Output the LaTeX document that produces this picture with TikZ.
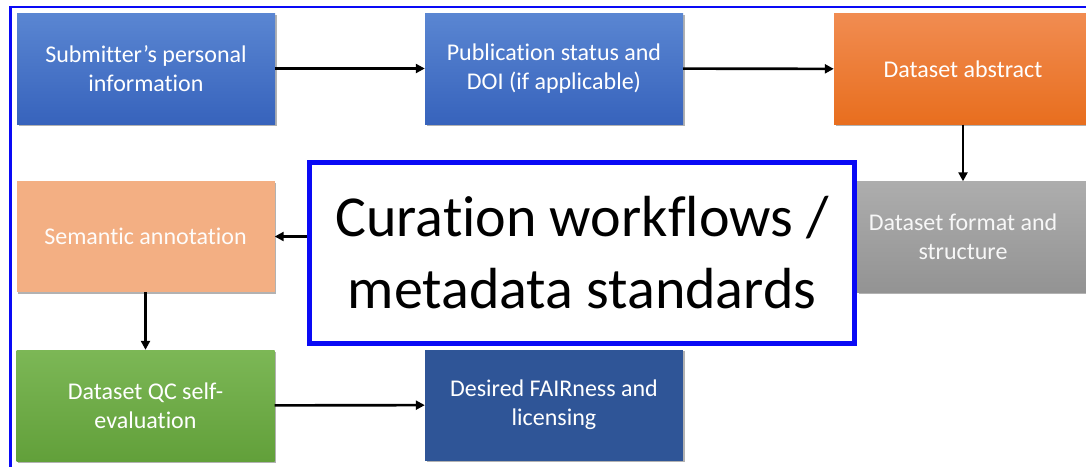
\documentclass[tikz,border=0pt]{standalone}
\usepackage{fontspec}
\setmainfont{Carlito}[Ligatures={NoCommon,NoContextual,NoRare}]
\usetikzlibrary{arrows.meta,shadows}

\definecolor{frameblue}{HTML}{0A0AF5}
\definecolor{bluetop}{HTML}{5A86D2}
\definecolor{bluebot}{HTML}{3763BC}
\definecolor{orangetop}{HTML}{F18C51}
\definecolor{orangebot}{HTML}{E86E1E}
\definecolor{peach}{HTML}{F3AF83}
\definecolor{graytop}{HTML}{ADADAD}
\definecolor{graybot}{HTML}{939393}
\definecolor{greentop}{HTML}{7CB756}
\definecolor{greenbot}{HTML}{62A03A}
\definecolor{navy}{HTML}{2F5597}

\tikzset{
  card/.style={rectangle, minimum width=258pt, minimum height=111pt,
    align=center, text=white, font=\fontsize{24}{29}\selectfont,
    drop shadow={shadow xshift=1.5pt, shadow yshift=-1.5pt, opacity=0.3, fill=black}},
  bluecard/.style={card, top color=bluetop, bottom color=bluebot},
  orangecard/.style={card, top color=orangetop, bottom color=orangebot},
  peachcard/.style={card, fill=peach, text=white!96!peach},
  graycard/.style={card, top color=graytop, bottom color=graybot, text=white!94!gray},
  greencard/.style={card, top color=greentop, bottom color=greenbot},
  navycard/.style={card, fill=navy},
  flow/.style={line width=2.6pt, black, -{Triangle[length=9pt,width=9pt]}},
}

\begin{document}
\begin{tikzpicture}[x=1pt, y=-1pt]
\useasboundingbox (0,0) rectangle (1086,466);
\clip (0,0) rectangle (1086,466);
\fill[white] (0,0) rectangle (1086,466);

% surrounding frame, running off the right and bottom edges
\draw[frameblue, line width=2.4pt] (10.5,7) rectangle (1120,500);

% process steps
\node[bluecard]   (sub)  at (146,68.5)   {Submitter’s personal\\information};
\node[bluecard]   (pub)  at (554,68.5)   {Publication status and\\DOI (if applicable)};
\node[orangecard] (abs)  at (963,69)     {Dataset abstract};
\node[graycard]   (fmt)  at (986,237)    {\hspace*{-46pt}Dataset format and\\\hspace*{-46pt}structure};
\node[peachcard]  (sem)  at (145.5,236.5){Semantic annotation};
\node[greencard]  (qc)   at (145.5,405.5){Dataset QC self-\\evaluation};
\node[navycard]   (fair) at (554,405)    {Desired FAIRness and\\licensing};

% central title box
\node[draw=frameblue, line width=5pt, fill=white, minimum width=545pt, minimum height=181pt,
      align=center, font=\fontsize{58}{72}\selectfont, inner sep=0pt]
      (cbox) at (582,253) {Curation workflows /\\metadata standards};

% connectors
\draw[flow] (sub) -- (pub);
\draw[flow] (pub) -- (abs);
\draw[flow] (abs.south) -- (abs.south |- fmt.north);
\draw[flow] (cbox.west |- sem.east) -- (sem.east);
\draw[flow] (sem) -- (qc);
\draw[flow] (qc) -- (fair);
\end{tikzpicture}
\end{document}
